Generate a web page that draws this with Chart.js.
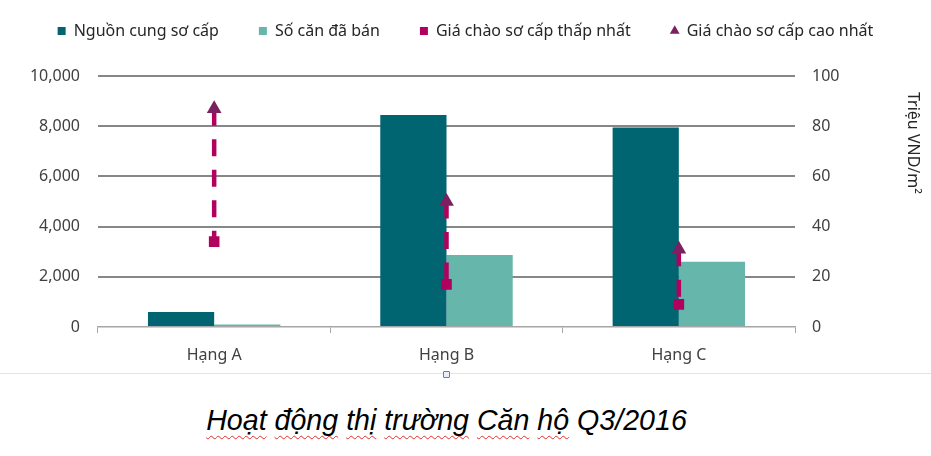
<!DOCTYPE html>
<html>
<head>
<meta charset="utf-8">
<script src="https://cdn.jsdelivr.net/npm/chart.js@4.4.1/dist/chart.umd.min.js"></script>
<style>
  html, body { margin: 0; padding: 0; background: #fff; }
  #wrap { position: relative; width: 931px; height: 456px; overflow: hidden; }
  #chartBox { position: absolute; left: 0; top: 0; width: 931px; height: 372px; }
  #frameLine { position: absolute; left: 0; top: 373px; width: 931px; height: 1px; background: #dbe6f2; }
  #handle { position: absolute; left: 443px; top: 371px; width: 5px; height: 5px; border: 1px solid #5b7fb5; border-radius: 1px; background: #e8eef7; }
  #title { position: absolute; left: 0; top: 402px; width: 893px; text-align: center;
           font-family: "Liberation Sans", Arial, sans-serif; font-style: italic; font-size: 28.6px; color: #000; line-height: 36px; }
  .sp { text-decoration: underline wavy #e0302a; text-decoration-thickness: 1px; text-underline-offset: 5px; text-decoration-skip-ink: none; }
</style>
</head>
<body>
<div id="wrap">
  <div id="chartBox"><canvas id="c"></canvas></div>
  <div id="frameLine"></div>
  <div id="handle"></div>
  <div id="title"><span class="sp">Hoạt</span> <span class="sp">động</span> <span class="sp">thị</span> <span class="sp">trường</span> <span class="sp">Căn</span> <span class="sp">hộ</span> Q3/2016</div>
</div>
<script>
const categories = ['Hạng A', 'Hạng B', 'Hạng C'];
const supply = [600, 8450, 7950];          // Nguồn cung sơ cấp
const sold = [100, 2870, 2600];            // Số căn đã bán
const lowPrice = [34, 17, 9];              // Giá chào sơ cấp thấp nhất
const highPrice = [87, 50, 31];            // Giá chào sơ cấp cao nhất
const leftTicks = [0, 2000, 4000, 6000, 8000, 10000];
const rightTicks = [0, 20, 40, 60, 80, 100];
const seriesNames = ['Nguồn cung sơ cấp', 'Số căn đã bán', 'Giá chào sơ cấp thấp nhất', 'Giá chào sơ cấp cao nhất'];
const rightAxisTitle = 'Triệu VND/m²';

const COL_DARK = '#006571';
const COL_LIGHT = '#66b6ac';
const COL_LOW = '#b1005d';
const COL_HIGH = '#7b2060';
const FONT = 'Noto Sans';

Chart.defaults.font.family = FONT;
Chart.defaults.font.size = 16;
Chart.defaults.color = '#404040';

const legendSpace = {
  id: 'legendSpace',
  afterInit(chart) {
    const lg = chart.legend;
    if (lg && !lg._patched) {
      const fit = lg.fit;
      lg.fit = function () { fit.call(this); this.height = 93; };
      lg._patched = true;
    }
  }
};

const rangeLines = {
  id: 'rangeLines',
  beforeDatasetDraw(chart, args) {
    if (args.index !== 2) return;
    const ctx = chart.ctx;
    const xs = chart.scales.x, ys = chart.scales.y1;
    ctx.save();
    ctx.strokeStyle = COL_LOW;
    ctx.lineWidth = 4.5;
    ctx.lineCap = 'butt';
    ctx.setLineDash([17, 13.5]);
    categories.forEach((c, i) => {
      const px = xs.getPixelForValue(i);
      ctx.beginPath();
      ctx.moveTo(px, ys.getPixelForValue(highPrice[i]));
      ctx.lineTo(px, ys.getPixelForValue(lowPrice[i]));
      ctx.stroke();
    });
    ctx.restore();
  }
};

const rightTitle = {
  id: 'rightTitle',
  afterDraw(chart) {
    const ctx = chart.ctx;
    ctx.save();
    ctx.translate(913, 92);
    ctx.rotate(Math.PI / 2);
    ctx.font = '16px "' + FONT + '"';
    ctx.fillStyle = '#262626';
    ctx.textAlign = 'left';
    ctx.textBaseline = 'middle';
    ctx.fillText(rightAxisTitle, 0, 0);
    ctx.restore();
  }
};

new Chart(document.getElementById('c'), {
  type: 'bar',
  data: {
    labels: categories,
    datasets: [
      { label: seriesNames[0], data: supply, backgroundColor: COL_DARK, yAxisID: 'y', order: 3,
        categoryPercentage: 0.57, barPercentage: 1.0, pointStyle: 'rect' },
      { label: seriesNames[1], data: sold, backgroundColor: COL_LIGHT, yAxisID: 'y', order: 3,
        categoryPercentage: 0.57, barPercentage: 1.0, pointStyle: 'rect' },
      { type: 'line', label: seriesNames[2], data: lowPrice, yAxisID: 'y1', order: 2, showLine: false,
        backgroundColor: COL_LOW, borderColor: COL_LOW, borderWidth: 0,
        pointStyle: 'rect', pointRadius: 7.5, pointHoverRadius: 7.5, pointBorderWidth: 0 },
      { type: 'line', label: seriesNames[3], data: highPrice, yAxisID: 'y1', order: 1, showLine: false,
        backgroundColor: COL_HIGH, borderColor: COL_HIGH, borderWidth: 0,
        pointStyle: 'triangle', pointRadius: 8.5, pointHoverRadius: 8.5, pointBorderWidth: 0 }
    ]
  },
  options: {
    responsive: true,
    maintainAspectRatio: false,
    animation: false,
    layout: { padding: { top: -17, left: 0, right: 0, bottom: 0 } },
    plugins: {
      legend: {
        position: 'top',
        labels: {
          usePointStyle: true,
          boxWidth: 8, boxHeight: 8,
          padding: 40,
          color: '#262626',
          font: { size: 16 },
          sort: (a, b) => a.datasetIndex - b.datasetIndex
        }
      },
      tooltip: { enabled: false }
    },
    scales: {
      x: {
        offset: true,
        grid: { offset: true, drawOnChartArea: false, drawTicks: true, tickLength: 6, color: '#a6a6a6', lineWidth: 1 },
        border: { display: true, color: '#a6a6a6', width: 1.5 },
        ticks: { padding: 13, color: '#404040', font: { size: 16 } },
        afterFit(s) { s.height = 45; }
      },
      y: {
        position: 'left',
        min: 0, max: 10000,
        afterBuildTicks(s) { s.ticks = leftTicks.map(v => ({ value: v })); },
        ticks: { padding: 18, color: '#404040', font: { size: 16 },
                 callback: v => v.toLocaleString('en-US') },
        grid: { drawTicks: false, lineWidth: 2,
                color: c => (c.tick && c.tick.value === 0) ? 'rgba(0,0,0,0)' : '#878787' },
        border: { display: false },
        afterFit(s) { s.width = 98; }
      },
      y1: {
        position: 'right',
        min: 0, max: 100,
        afterBuildTicks(s) { s.ticks = rightTicks.map(v => ({ value: v })); },
        ticks: { padding: 17, color: '#404040', font: { size: 16 } },
        grid: { display: false, drawTicks: false },
        border: { display: false },
        afterFit(s) { s.width = 136; }
      }
    }
  },
  plugins: [legendSpace, rangeLines, rightTitle]
});
</script>
</body>
</html>
